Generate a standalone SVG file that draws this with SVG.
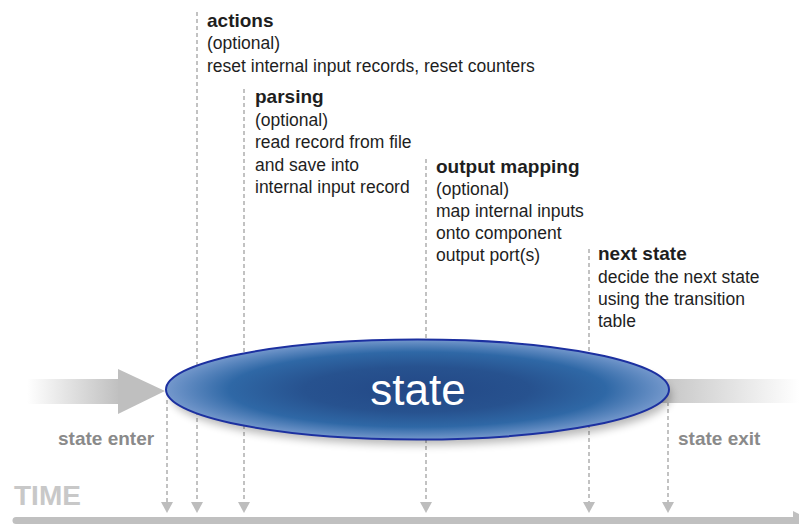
<svg xmlns="http://www.w3.org/2000/svg" xmlns:xlink="http://www.w3.org/1999/xlink" width="799" height="524" viewBox="0 0 799 524">
<defs>
<style>
.t{font-family:"Liberation Sans",Arial,sans-serif;font-size:17.5px;fill:#1e1e1e}
.b{font-weight:bold;font-size:19px}
.g{font-family:"Liberation Sans",Arial,sans-serif;font-size:19px;font-weight:bold;fill:#8a8a8a}
.d{stroke:#c2c2c2;stroke-width:2;stroke-dasharray:4 3;fill:none}
.ah{fill:#bdbdbd}
</style>
<linearGradient id="inG" x1="27" y1="0" x2="120" y2="0" gradientUnits="userSpaceOnUse">
<stop offset="0" stop-color="#bfbfbf" stop-opacity="0"/>
<stop offset="1" stop-color="#bfbfbf"/>
</linearGradient>
<linearGradient id="outG" x1="660" y1="0" x2="799" y2="0" gradientUnits="userSpaceOnUse">
<stop offset="0" stop-color="#c4c4c4"/>
<stop offset="1" stop-color="#c4c4c4" stop-opacity="0"/>
</linearGradient>
<radialGradient id="stG" cx="0.5" cy="0.5" r="0.5">
<stop offset="0" stop-color="#234886"/>
<stop offset="0.45" stop-color="#27528f"/>
<stop offset="0.75" stop-color="#2f68a6"/>
<stop offset="1" stop-color="#7498cc"/>
</radialGradient>
<filter id="sh" x="-10%" y="-40%" width="120%" height="180%">
<feGaussianBlur stdDeviation="4"/>
</filter>
<path id="tri" class="ah" d="M-6,0 L6,0 L0,11 Z"/>
</defs>
<rect width="799" height="524" fill="#ffffff"/>

<g id="time">
<text x="14" y="505" style="font-family:'Liberation Sans',Arial,sans-serif;font-size:28px;font-weight:bold;fill:#c8c8c8">TIME</text>
<path d="M16,517 L799,517 L799,524 L16,524 A3.5,3.5 0 0 1 16,517 Z" fill="#c0c0c0"/>
<path d="M793,511 L799,514 L799,517 L793,517 Z" fill="#c0c0c0"/>
</g>

<g id="enter-arrow">
<rect x="27" y="379" width="93" height="25" fill="url(#inG)"/>
<path d="M118,369 L165,391 L118,414 Z" fill="#bfbfbf"/>
</g>
<g id="exit-bar">
<rect x="660" y="379" width="139" height="24" fill="url(#outG)"/>
</g>

<g id="connectors">
<line class="d" x1="167" y1="400" x2="167" y2="503"/>
<use xlink:href="#tri" href="#tri" x="167" y="502"/>
<line class="d" x1="197" y1="12" x2="197" y2="503"/>
<use xlink:href="#tri" href="#tri" x="197" y="502"/>
<line class="d" x1="244" y1="89" x2="244" y2="503"/>
<use xlink:href="#tri" href="#tri" x="244" y="502"/>
<line class="d" x1="426" y1="159" x2="426" y2="503"/>
<use xlink:href="#tri" href="#tri" x="426" y="502"/>
<line class="d" x1="589" y1="249" x2="589" y2="503"/>
<use xlink:href="#tri" href="#tri" x="589" y="502"/>
<line class="d" x1="668" y1="402" x2="668" y2="503"/>
<use xlink:href="#tri" href="#tri" x="668" y="502"/>
</g>

<g id="state">
<ellipse cx="421" cy="396" rx="250" ry="49" fill="#000" opacity="0.28" filter="url(#sh)"/>
<ellipse cx="417.5" cy="389.5" rx="251.5" ry="50" fill="url(#stG)" stroke="#1c30a0" stroke-width="2"/>
<text x="418" y="405" text-anchor="middle" style="font-family:'Liberation Sans',Arial,sans-serif;font-size:44px;fill:#ffffff">state</text>
</g>

<g id="actions">
<text class="t b" x="207" y="27">actions</text>
<text class="t" x="207" y="49">(optional)</text>
<text class="t" x="207" y="72">reset internal input records, reset counters</text>
</g>
<g id="parsing">
<text class="t b" x="255" y="103">parsing</text>
<text class="t" x="255" y="126">(optional)</text>
<text class="t" x="255" y="148">read record from file</text>
<text class="t" x="255" y="171">and save into</text>
<text class="t" x="255" y="193">internal input record</text>
</g>
<g id="output-mapping">
<text class="t b" x="436" y="173">output mapping</text>
<text class="t" x="436" y="195">(optional)</text>
<text class="t" x="436" y="217">map internal inputs</text>
<text class="t" x="436" y="239">onto component</text>
<text class="t" x="436" y="261">output port(s)</text>
</g>
<g id="next-state">
<text class="t b" x="598" y="260">next state</text>
<text class="t" x="598" y="283">decide the next state</text>
<text class="t" x="598" y="305">using the transition</text>
<text class="t" x="598" y="327">table</text>
</g>
<g id="state-enter">
<text class="g" x="58" y="445">state enter</text>
</g>
<g id="state-exit">
<text class="g" x="678" y="445">state exit</text>
</g>
</svg>
